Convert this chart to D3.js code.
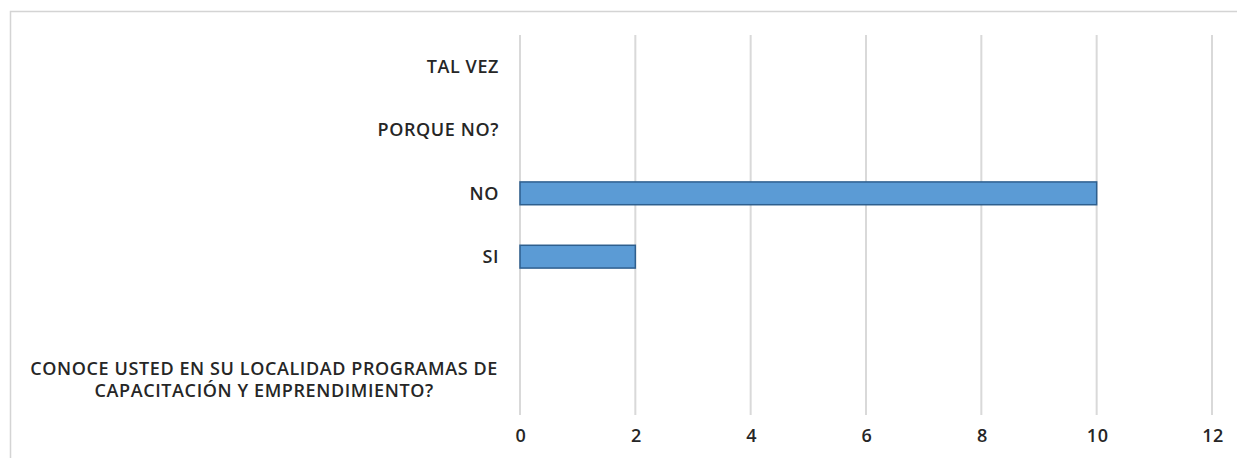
<!DOCTYPE html>
<html>
<head>
<meta charset="utf-8">
<script src="https://cdn.jsdelivr.net/npm/d3@7"></script>
<style>
  body { margin: 0; background: #fff; }
  #chart text { font-family: "Open Sans", sans-serif; fill: #262626; font-size: 18px; font-weight: 600; letter-spacing: 0.6px; }
</style>
</head>
<body>
<div id="chart"></div>
<script>
// categories top to bottom, the empty one is a blank row in the original sheet
var categories = ["TAL VEZ", "PORQUE NO?", "NO", "SI", "", "CONOCE USTED EN SU LOCALIDAD PROGRAMAS DE\nCAPACITACIÓN Y EMPRENDIMIENTO?"];
var values = [0, 0, 10, 2, 0, 0];
var ticks = [0, 2, 4, 6, 8, 10, 12];

var W = 1237, H = 458;
var margin = {top: 35, right: 25, bottom: 43, left: 520},
    width = 1212 - margin.left,
    height = 415 - margin.top;

var data = categories.map(function(c, i) { return {cat: c, val: values[i]}; });

var x = d3.scaleLinear().domain([0, 12]).range([0, width]);
var y = d3.scaleBand().domain(categories).range([0, height]).paddingInner(0.64).paddingOuter(0.32);

var svg = d3.select("#chart").append("svg")
    .attr("width", W)
    .attr("height", H);

// frame of the chart area (top and left edges visible)
svg.append("path")
    .attr("d", "M10.5," + H + "V11.5H" + W)
    .attr("fill", "none")
    .attr("stroke", "#d4d4d4")
    .attr("stroke-width", 1.5);

var g = svg.append("g")
    .attr("transform", "translate(" + margin.left + "," + margin.top + ")");

// vertical gridlines
g.selectAll(".grid")
    .data(ticks)
  .enter().append("line")
    .attr("class", "grid")
    .attr("x1", function(d) { return x(d); })
    .attr("x2", function(d) { return x(d); })
    .attr("y1", 0)
    .attr("y2", height)
    .attr("stroke", "#d9d9d9")
    .attr("stroke-width", 2);

// bars
g.selectAll(".bar")
    .data(data.filter(function(d) { return d.val > 0; }))
  .enter().append("rect")
    .attr("class", "bar")
    .attr("x", x(0))
    .attr("y", function(d) { return y(d.cat); })
    .attr("width", function(d) { return x(d.val); })
    .attr("height", y.bandwidth())
    .attr("fill", "#5b9bd5")
    .attr("stroke", "#2e5f8e")
    .attr("stroke-width", 1.5);

// x axis labels
var xAxis = d3.axisBottom(x).tickValues(ticks).tickSize(0).tickPadding(14);
var xa = g.append("g")
    .attr("transform", "translate(0," + height + ")")
    .call(xAxis);
xa.select(".domain").remove();
xa.selectAll("text").attr("dx", "0.03em");

// y axis labels, multi-line ones centred as a block ending at the axis
var yl = g.append("g");
data.forEach(function(d) {
  var lines = d.cat.split("\n");
  var cy = y(d.cat) + y.bandwidth() / 2 - (lines.length > 1 ? 4 : 0);
  var t = yl.append("text")
      .attr("text-anchor", lines.length > 1 ? "middle" : "end");
  lines.forEach(function(l, i) {
    t.append("tspan")
        .attr("x", 0)
        .attr("y", cy + (i - (lines.length - 1) / 2) * 22)
        .attr("dy", "0.35em")
        .text(l);
  });
  if (lines.length > 1) {
    var w = t.node().getBBox().width;
    t.selectAll("tspan").attr("x", -22 - w / 2);
  } else {
    t.selectAll("tspan").attr("x", -21);
  }
});
</script>
</body>
</html>
